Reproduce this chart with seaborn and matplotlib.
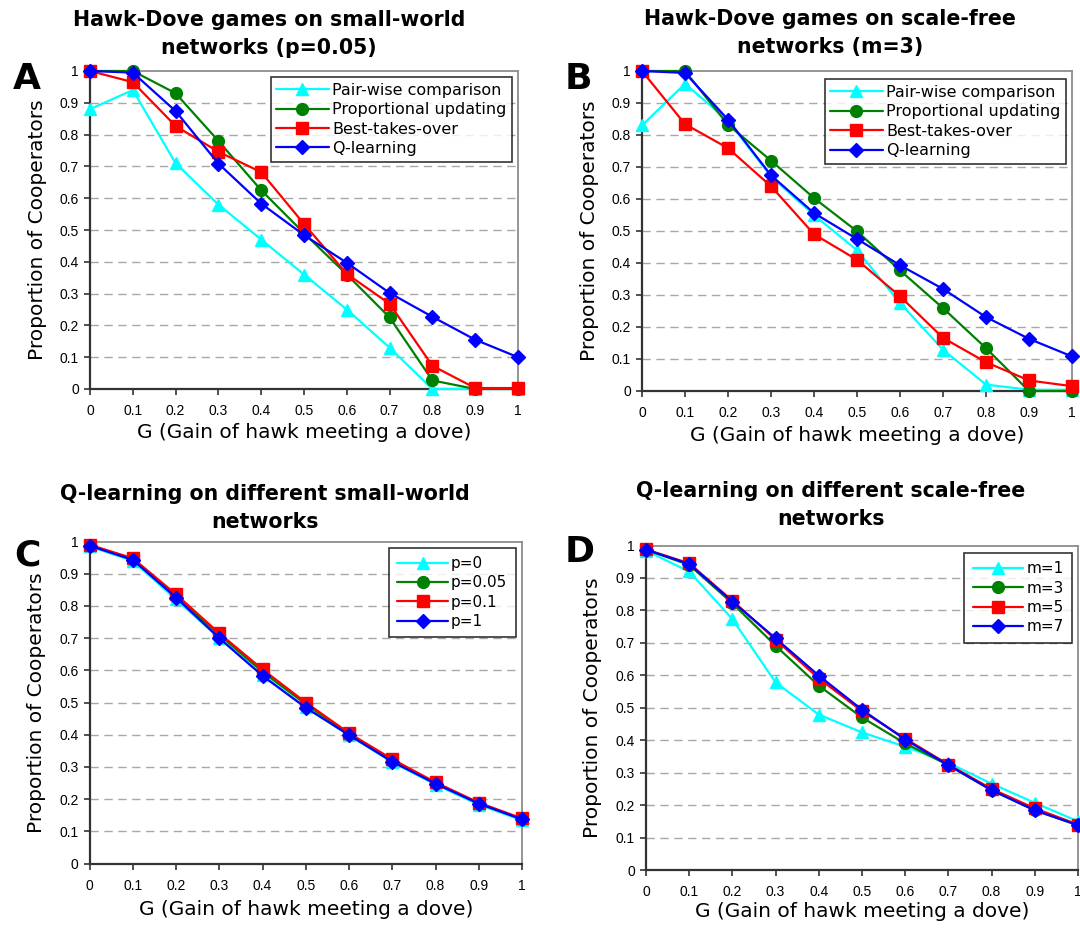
import matplotlib
matplotlib.use("Agg")
import matplotlib.pyplot as plt
import seaborn as sns

sns.set_theme(style="white")
plt.rcParams["font.family"] = ["DejaVu Sans"]
plt.rcParams["text.color"] = "black"
plt.rcParams["axes.labelcolor"] = "black"
plt.rcParams["xtick.color"] = "black"
plt.rcParams["ytick.color"] = "black"

# Gain of hawk meeting a dove
g = [0.0, 0.1, 0.2, 0.3, 0.4, 0.5, 0.6, 0.7, 0.8, 0.9, 1.0]
tick_labels = ["0", "0.1", "0.2", "0.3", "0.4", "0.5", "0.6", "0.7", "0.8", "0.9", "1"]

# Panel A: small-world networks (p=0.05)
a_pairwise = [0.88, 0.94, 0.71, 0.58, 0.47, 0.36, 0.25, 0.13, 0.0, 0.0, 0.0]
a_proportional = [1.0, 1.0, 0.93, 0.78, 0.625, 0.49, 0.36, 0.225, 0.027, 0.0, 0.0]
a_best = [1.0, 0.965, 0.827, 0.746, 0.682, 0.519, 0.362, 0.268, 0.073, 0.003, 0.003]
a_qlearn = [1.0, 0.995, 0.874, 0.709, 0.583, 0.484, 0.397, 0.302, 0.227, 0.155, 0.10]

# Panel B: scale-free networks (m=3)
b_pairwise = [0.83, 0.96, 0.845, 0.67, 0.55, 0.44, 0.275, 0.129, 0.02, 0.004, 0.004]
b_proportional = [1.0, 1.0, 0.832, 0.72, 0.603, 0.499, 0.377, 0.259, 0.134, 0.0, 0.0]
b_best = [1.0, 0.834, 0.759, 0.64, 0.49, 0.41, 0.296, 0.166, 0.09, 0.033, 0.015]
b_qlearn = [1.0, 0.994, 0.848, 0.674, 0.556, 0.475, 0.393, 0.319, 0.231, 0.163, 0.108]

# Panel C: Q-learning on small-world networks
c_p0 = [0.985, 0.94, 0.82, 0.70, 0.585, 0.485, 0.398, 0.315, 0.245, 0.183, 0.134]
c_p005 = [0.988, 0.945, 0.83, 0.71, 0.595, 0.495, 0.402, 0.32, 0.25, 0.187, 0.138]
c_p01 = [0.99, 0.948, 0.836, 0.715, 0.603, 0.50, 0.405, 0.324, 0.252, 0.189, 0.14]
c_p1 = [0.987, 0.943, 0.826, 0.70, 0.583, 0.484, 0.399, 0.316, 0.248, 0.186, 0.137]

# Panel D: Q-learning on scale-free networks
d_m1 = [0.984, 0.92, 0.773, 0.578, 0.479, 0.424, 0.38, 0.33, 0.266, 0.207, 0.15]
d_m3 = [0.987, 0.94, 0.822, 0.691, 0.568, 0.47, 0.39, 0.323, 0.246, 0.184, 0.138]
d_m5 = [0.988, 0.945, 0.83, 0.71, 0.59, 0.49, 0.405, 0.325, 0.25, 0.19, 0.14]
d_m7 = [0.987, 0.943, 0.827, 0.714, 0.599, 0.494, 0.402, 0.323, 0.246, 0.184, 0.138]

rule_labels = ["Pair-wise comparison", "Proportional updating", "Best-takes-over", "Q-learning"]
p_labels = ["p=0", "p=0.05", "p=0.1", "p=1"]
m_labels = ["m=1", "m=3", "m=5", "m=7"]

colors = ["#00FFFF", "#008000", "#FF0000", "#0000FF"]
markers = ["^", "o", "s", "D"]
msizes = [9.0, 8.5, 8.5, 7.0]

fig = plt.figure(figsize=(10.8, 9.32), dpi=100)
W, H = 1080, 932


def add_panel(box, series, labels, title, title_xy, letter, letter_xy,
              ylab_x, xlab_y, leg_anchor, leg_fs, leg_bp):
    l, t, r, b = box
    ax = fig.add_axes([l / W, 1 - b / H, (r - l) / W, (b - t) / H])
    for vals, lab, c, m, ms in zip(series, labels, colors, markers, msizes):
        sns.lineplot(x=g, y=vals, ax=ax, color=c, marker=m, markersize=ms,
                     markeredgecolor=c, markeredgewidth=1.0, linewidth=1.6,
                     label=lab, clip_on=False, zorder=3)
    ax.set_xlim(0, 1)
    ax.set_ylim(0, 1)
    ax.set_xticks(g)
    ax.set_xticklabels(tick_labels)
    ax.set_yticks(g)
    ax.set_yticklabels(tick_labels)
    for lbl in ax.get_xticklabels() + ax.get_yticklabels():
        lbl.set_fontfamily("Liberation Sans")
        lbl.set_fontsize(10)
        lbl.set_color("black")
    ax.tick_params(axis="x", direction="out", length=4, width=1.2,
                   color="#333333", pad=7, bottom=True)
    ax.tick_params(axis="y", direction="out", length=4, width=1.2,
                   color="#333333", pad=4, left=True)
    for yv in g[1:-1]:
        ax.axhline(yv, color="#a8a8a8", linewidth=1.0, linestyle=(0, (6, 4)), zorder=1)
    for side in ("left", "bottom"):
        ax.spines[side].set_color("#333333")
        ax.spines[side].set_linewidth(1.6)
    for side in ("top", "right"):
        ax.spines[side].set_color("#8c8c8c")
        ax.spines[side].set_linewidth(1.3)
    ax.set_ylabel("Proportion of Cooperators", fontsize=14.5, color="black")
    ax.yaxis.set_label_coords(ylab_x, 0.5)
    ax.set_xlabel("G (Gain of hawk meeting a dove)", fontsize=14.5, color="black")
    ax.xaxis.set_label_coords(0.5, xlab_y)
    leg = ax.legend(loc="upper right", bbox_to_anchor=leg_anchor, borderaxespad=0,
                    frameon=True, fancybox=False, fontsize=leg_fs,
                    handlelength=3.3, handletextpad=0.2, labelspacing=0.28,
                    borderpad=leg_bp)
    leg.get_frame().set_edgecolor("black")
    leg.get_frame().set_linewidth(1.2)
    for txt in leg.get_texts():
        txt.set_color("black")
    leg.set_zorder(5)
    fig.text(title_xy[0] / W, 1 - title_xy[1] / H, title, ha="center", va="center",
             fontsize=14.8, fontweight="bold", linespacing=1.45, color="black")
    fig.text(letter_xy[0] / W, 1 - letter_xy[1] / H, letter, ha="center", va="center",
             fontsize=26, fontweight="bold", color="black")
    return ax


add_panel((90, 71, 518, 389), [a_pairwise, a_proportional, a_best, a_qlearn],
          rule_labels, "Hawk-Dove games on small-world\nnetworks (p=0.05)",
          (269, 34), "A", (27, 79), -0.10, -0.108, (0.986, 0.981), 11.5, 0.35)
add_panel((642, 71, 1072, 391), [b_pairwise, b_proportional, b_best, b_qlearn],
          rule_labels, "Hawk-Dove games on scale-free\nnetworks (m=3)",
          (830, 33), "B", (578, 79), -0.10, -0.11, (0.986, 0.974), 11.5, 0.35)
add_panel((89.5, 541.5, 522, 863.5), [c_p0, c_p005, c_p01, c_p1],
          p_labels, "Q-learning on different small-world\nnetworks",
          (265, 508), "C", (27, 555), -0.10, -0.113, (0.985, 0.981), 11, 0.55)
add_panel((646, 545.5, 1078, 870), [d_m1, d_m3, d_m5, d_m7],
          m_labels, "Q-learning on different scale-free\nnetworks",
          (831, 505), "D", (580, 552), -0.102, -0.10, (0.986, 0.977), 11, 0.55)

fig.savefig("out.png", dpi=100, facecolor="white")
